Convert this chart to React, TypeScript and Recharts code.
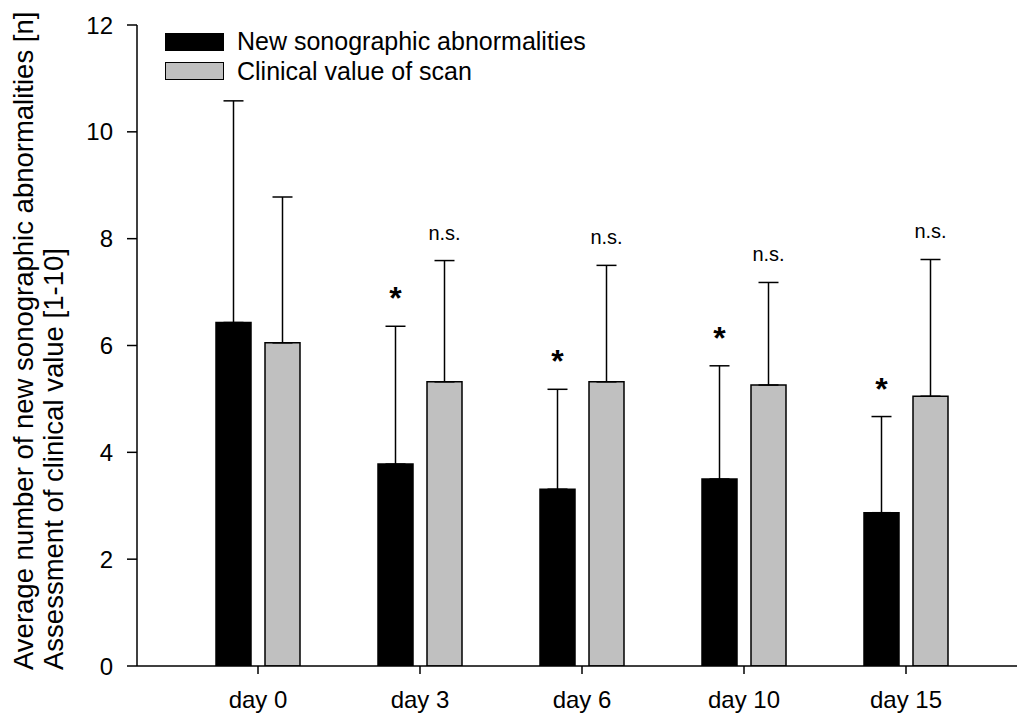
import React from 'react';
import { BarChart, Bar, XAxis, YAxis, ErrorBar, LabelList, Legend } from 'recharts';

const categories = ['day 0', 'day 3', 'day 6', 'day 10', 'day 15'];
const abnormalities = [6.43, 3.78, 3.31, 3.5, 2.87];
const abnormalitiesErr = [4.15, 2.58, 1.87, 2.12, 1.8];
const clinicalValue = [6.05, 5.32, 5.32, 5.26, 5.05];
const clinicalErr = [2.73, 2.27, 2.18, 1.92, 2.56];
const abnormalityMarks = ['', '*', '*', '*', '*'];
const clinicalMarks = ['', 'n.s.', 'n.s.', 'n.s.', 'n.s.'];
const yTicks = [0, 2, 4, 6, 8, 10, 12];
const seriesNames = ['New sonographic abnormalities', 'Clinical value of scan'];
const titleLines = ['Average number of new sonographic abnormalities [n]', 'Assessment of clinical value [1-10]'];

const FONT = '"Liberation Sans", Arial, Helvetica, sans-serif';
const BLACK = '#000000';
const GRAY = '#c0c0c0';

const data = categories.map((day, i) => ({
  day,
  abn: abnormalities[i],
  abnErr: [0, abnormalitiesErr[i]],
  clin: clinicalValue[i],
  clinErr: [0, clinicalErr[i]],
  abnMark: abnormalityMarks[i],
  clinMark: clinicalMarks[i],
}));

const makeMark = (values: number[], errs: number[], fontSize: number, fontWeight: string, lift: number) => (props: any) => {
  const vb = props.viewBox ?? props;
  const x = Number(vb.x ?? props.x);
  const y = Number(vb.y ?? props.y);
  const w = Number(vb.width ?? props.width);
  const h = Number(vb.height ?? props.height);
  const idx = props.index;
  const text = props.value;
  if (!text || idx === undefined) return null;
  const top = Math.min(y, y + h);
  const ppu = Math.abs(h) / values[idx];
  const errTop = top - errs[idx] * ppu;
  return (
    <text
      x={x + w / 2}
      y={errTop - lift}
      textAnchor="middle"
      fontFamily={FONT}
      fontSize={fontSize}
      fontWeight={fontWeight}
      fill="#000"
    >
      {text}
    </text>
  );
};

const LegendContent = () => (
  <div style={{ fontFamily: FONT, fontSize: 25, color: '#000' }}>
    {[BLACK, GRAY].map((c, i) => (
      <div key={i} style={{ display: 'flex', alignItems: 'center', height: 29.5, whiteSpace: 'nowrap' }}>
        <div
          style={{
            width: 59,
            height: 18,
            background: c,
            border: '1.5px solid #000',
            boxSizing: 'border-box',
            marginRight: 13,
          }}
        />
        <span style={{ lineHeight: '25px' }}>{seriesNames[i]}</span>
      </div>
    ))}
  </div>
);

const YTitle = () => (
  <g>
    {titleLines.map((t, i) => (
      <text
        key={i}
        x={33 + i * 30}
        y={670}
        transform={`rotate(-90, ${33 + i * 30}, 670)`}
        textAnchor="start"
        fontFamily={FONT}
        fontSize={27.5}
        fill="#000"
      >
        {t}
      </text>
    ))}
  </g>
);

export default function App() {
  return (
    <div style={{ position: 'absolute', left: 0, top: 0, width: 1017, height: 714, background: '#fff' }}>
      <BarChart
        width={1017}
        height={714}
        data={data}
        margin={{ top: 25, right: 0, bottom: 0, left: 0 }}
        barSize={35}
        barGap={14}
      >
        <XAxis
          dataKey="day"
          height={48}
          padding={{ left: 40, right: 30 }}
          axisLine={{ stroke: '#000', strokeWidth: 1.5 }}
          tickLine={{ stroke: '#000', strokeWidth: 1.5 }}
          tickSize={8}
          tickMargin={17}
          tick={{ fill: '#000', fontSize: 24, fontFamily: FONT }}
          interval={0}
        />
        <YAxis
          width={137}
          domain={[0, 12]}
          ticks={yTicks}
          allowDataOverflow
          axisLine={{ stroke: '#000', strokeWidth: 1.5 }}
          tickLine={{ stroke: '#000', strokeWidth: 1.5 }}
          tickSize={10}
          tickMargin={14}
          tick={{ fill: '#000', fontSize: 24, fontFamily: FONT }}
          label={{ content: () => <YTitle /> }}
        />
        <Legend
          layout="horizontal"
          verticalAlign="middle"
          align="center"
          wrapperStyle={{ left: 165, top: 27, width: 500, height: 60 }}
          content={() => <LegendContent />}
        />
        <Bar dataKey="abn" name={seriesNames[0]} fill={BLACK} stroke="#000" strokeWidth={1.5} isAnimationActive={false}>
          <ErrorBar dataKey="abnErr" direction="y" width={10} stroke="#000" strokeWidth={1.5} isAnimationActive={false} />
          <LabelList dataKey="abnMark" content={makeMark(abnormalities, abnormalitiesErr, 32, 'bold', 17)} />
        </Bar>
        <Bar dataKey="clin" name={seriesNames[1]} fill={GRAY} stroke="#000" strokeWidth={1.5} isAnimationActive={false}>
          <ErrorBar dataKey="clinErr" direction="y" width={10} stroke="#000" strokeWidth={1.5} isAnimationActive={false} />
          <LabelList dataKey="clinMark" content={makeMark(clinicalValue, clinicalErr, 20, 'normal', 21)} />
        </Bar>
      </BarChart>
    </div>
  );
}
